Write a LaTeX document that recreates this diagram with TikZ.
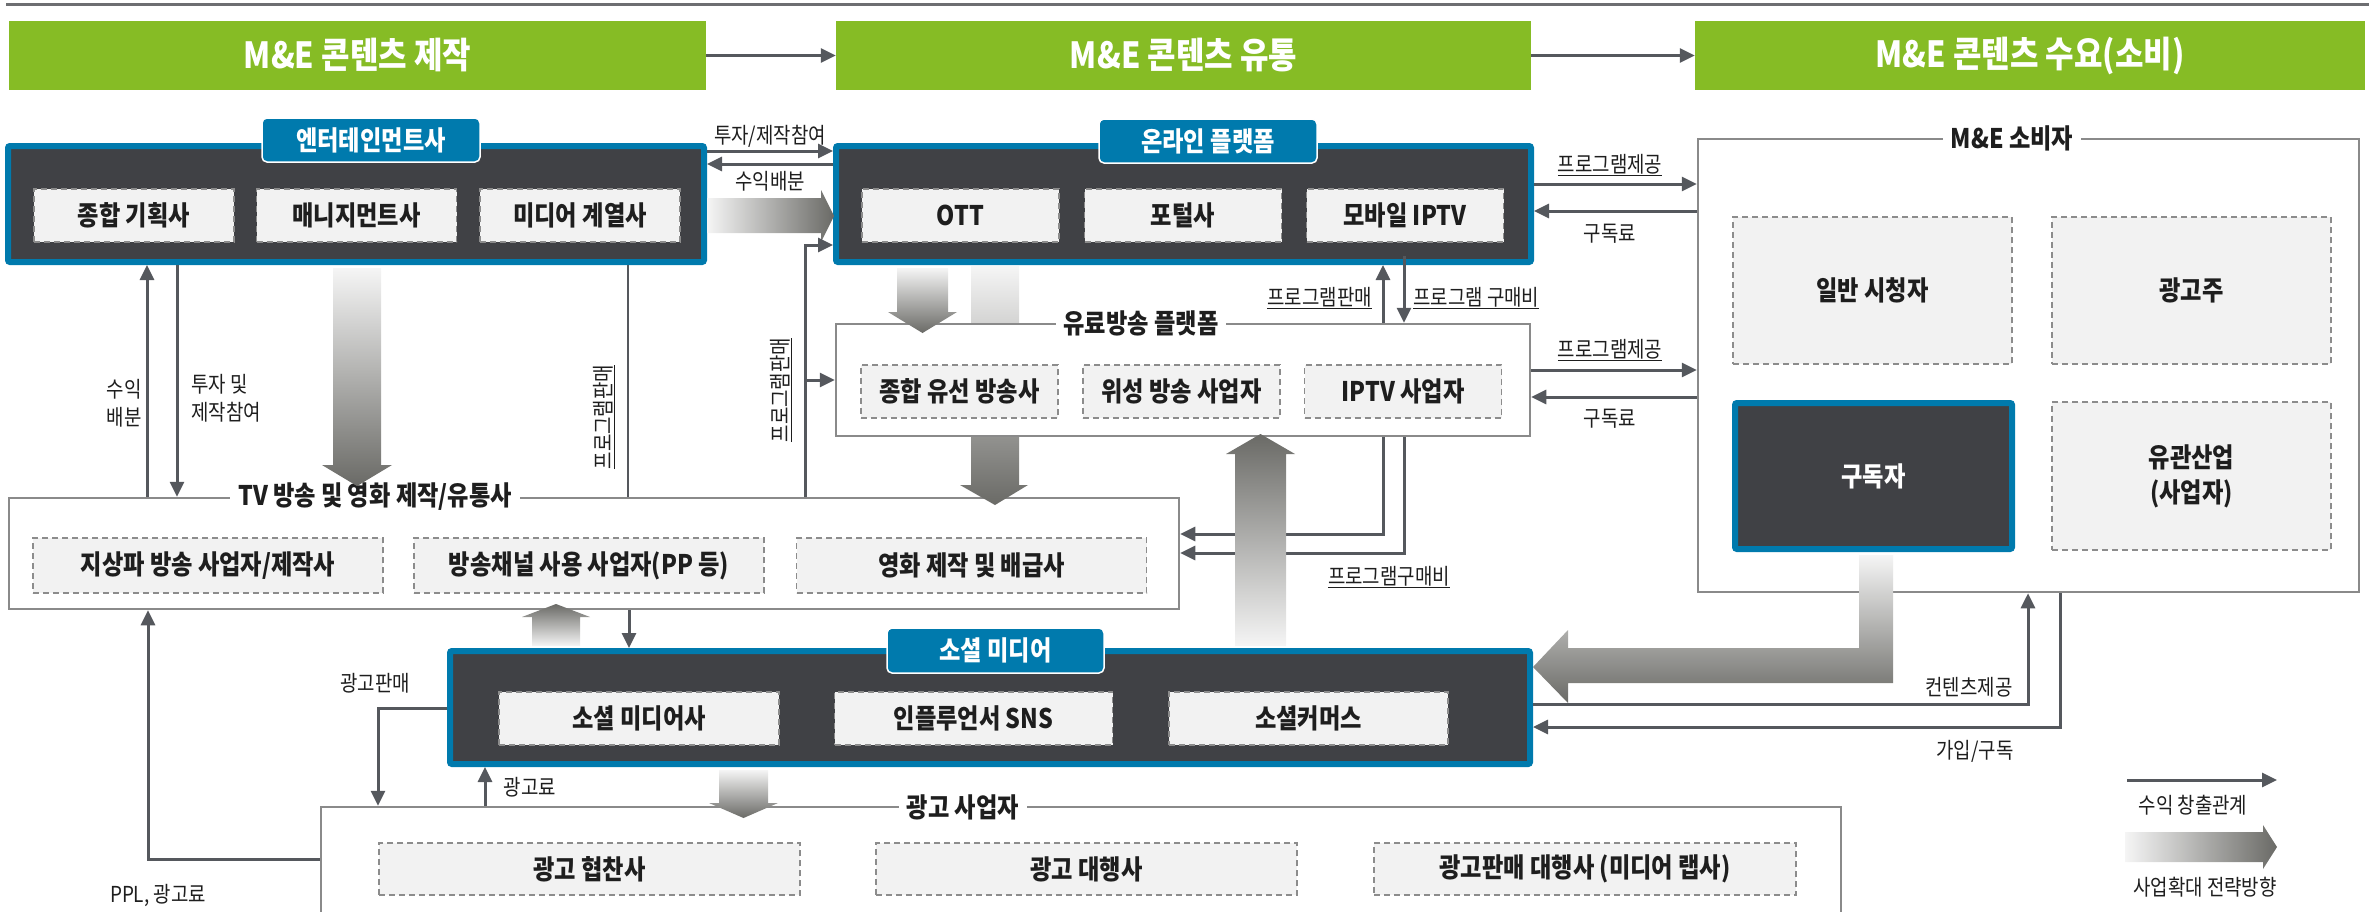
\documentclass[tikz,border=0pt]{standalone}
\usepackage{fontspec}
\setmainfont{Noto Sans CJK KR}[FakeStretch=0.86]
\usetikzlibrary{arrows.meta}
\definecolor{hgreen}{RGB}{134,188,37}
\definecolor{bblue}{RGB}{0,122,173}
\definecolor{dbox}{RGB}{64,65,69}
\definecolor{ibox}{RGB}{242,242,242}
\definecolor{dgray}{RGB}{140,140,140}
\definecolor{agray}{RGB}{85,88,93}
\definecolor{pgray}{RGB}{138,138,138}
\definecolor{tline}{RGB}{109,110,113}
\definecolor{fatdark}{RGB}{106,106,102}
\definecolor{fatlight}{RGB}{245,245,245}
\definecolor{txt}{RGB}{30,30,30}
\begin{document}
\begin{tikzpicture}[x=1pt,y=-1pt,
  hdr/.style={fill=hgreen, text=white, font=\fontsize{36}{38}\selectfont\bfseries, minimum height=69pt, inner sep=0},
  bluebox/.style={fill=dbox, draw=bblue, line width=6pt, rounded corners=2pt, inner sep=0},
  tabbox/.style={fill=bblue, draw=white, line width=1.5pt, rounded corners=5pt, text=white, font=\fontsize{27}{29}\selectfont\bfseries, minimum width=218pt, minimum height=44pt, inner sep=0},
  ibx/.style={fill=ibox, draw=dgray, dash pattern=on 6pt off 4pt, line width=1.8pt, text=txt, font=\fontsize{27}{35}\selectfont\bfseries, inner sep=0, align=center},
  pbox/.style={draw=pgray, line width=2.5pt, fill=white, inner sep=0},
  ttl/.style={fill=white, text=txt, font=\fontsize{27}{29}\selectfont\bfseries, inner xsep=8pt, inner ysep=2pt},
  ln/.style={draw=agray, line width=3pt},
  conn/.style={ln, -{Triangle[length=15pt,width=14pt]}},
  lab/.style={font=\fontsize{22}{28}\selectfont, text=txt, inner sep=0, align=center},
  fatv/.style={top color=fatlight, bottom color=fatdark},
  fatu/.style={top color=fatdark, bottom color=fatlight},
  fath/.style={left color=fatlight, right color=fatdark},
]
\useasboundingbox (0,0) rectangle (2369,911);

% top rule
\coordinate (tl1) at (6,4);
\coordinate (tl2) at (2369,4);
\draw[tline, line width=3pt] (tl1) -- (tl2);

% headers
\node[hdr, minimum width=697pt] (h1) at (357.5,55.5) {M\&E 콘텐츠 제작};
\node[hdr, minimum width=695pt] (h2) at (1183.5,55.5) {M\&E 콘텐츠 유통};
\node[hdr, minimum width=670pt] (h3) at (2030,55.5) {M\&E 콘텐츠 수요(소비)};
\draw[conn] (h1) -- (h2);
\draw[conn] (h2) -- (h3);

% plain boxes
\node[pbox, minimum width=1170pt, minimum height=111pt] (tv) at (594,553.5) {};
\node[pbox, minimum width=1520pt, minimum height=120pt] (ad) at (1081,867) {};
\node[pbox, minimum width=661pt, minimum height=453pt] (cons) at (2028.5,365.5) {};

% fat arrow online -> TV (behind paid platform)
\shade[fatv] (971,266) -- (1019,266) -- (1019,485) -- (1028,485) -- (995,505) -- (960,485) -- (971,485) -- cycle;

% paid platform box
\node[pbox, minimum width=694pt, minimum height=112pt] (paid) at (1183,380) {};

% titles of plain boxes
\node[ttl] at (375,497) {TV 방송 및 영화 제작/유통사};
\node[ttl] at (1141,323) {유료방송 플랫폼};
\node[ttl] at (963,807) {광고 사업자};
\node[ttl] at (2012,138) {M\&E 소비자};

% program purchase lines paid -> TV (behind fat arrow)
\draw[conn] (paid.south -| 1383,0) -- (1383,534) -- (tv.east |- 0,534);
\draw[conn] (paid.south -| 1404,0) -- (1404,553) -- (tv.east |- 0,553);

% fat arrow social -> paid
\shade[fatu] (1235,646) -- (1286,646) -- (1286,454) -- (1295,454) -- (1260.5,434) -- (1226,454) -- (1235,454) -- cycle;

% blue boxes
\node[bluebox, minimum width=696pt, minimum height=116pt] (ent) at (356,204) {};
\node[bluebox, minimum width=695pt, minimum height=116pt] (online) at (1183.5,204) {};
\node[bluebox, minimum width=1080pt, minimum height=113pt] (social) at (990,707.5) {};

\node[tabbox] (enttab) at (371,140) {엔터테인먼트사};
\node[tabbox] (onltab) at (1208,141) {온라인 플랫폼};
\node[tabbox, minimum width=217pt, minimum height=45pt] (soctab) at (995.5,650.5) {소셜 미디어};

% inner boxes
\node[ibx, minimum width=200pt, minimum height=53pt] (e1) at (134,215.5) {종합 기획사};
\node[ibx, minimum width=200pt, minimum height=53pt] (e2) at (356.5,215.5) {매니지먼트사};
\node[ibx, minimum width=200pt, minimum height=53pt] (e3) at (580,215.5) {미디어 계열사};

\node[ibx, minimum width=197pt, minimum height=53pt] (o1) at (960.5,215.5) {OTT};
\node[ibx, minimum width=197pt, minimum height=53pt] (o2) at (1183,215.5) {포털사};
\node[ibx, minimum width=197pt, minimum height=53pt] (o3) at (1405,215.5) {모바일 IPTV};

\node[ibx, minimum width=197pt, minimum height=53pt] (p1) at (959.5,391.5) {종합 유선 방송사};
\node[ibx, minimum width=197pt, minimum height=53pt] (p2) at (1181.5,391.5) {위성 방송 사업자};
\node[ibx, minimum width=197pt, minimum height=53pt] (p3) at (1403,391.5) {IPTV 사업자};

\node[ibx, minimum width=350pt, minimum height=55pt] (t1) at (208,565.5) {지상파 방송 사업자/제작사};
\node[ibx, minimum width=350pt, minimum height=55pt] (t2) at (589,565.5) {방송채널 사용 사업자(PP 등)};
\node[ibx, minimum width=350pt, minimum height=55pt] (t3) at (971.5,565.5) {영화 제작 및 배급사};

\node[ibx, minimum width=280pt, minimum height=53pt] (s1) at (639,718.5) {소셜 미디어사};
\node[ibx, minimum width=278pt, minimum height=53pt] (s2) at (973.5,718.5) {인플루언서 SNS};
\node[ibx, minimum width=279pt, minimum height=53pt] (s3) at (1308.5,718.5) {소셜커머스};

\node[ibx, minimum width=421pt, minimum height=52pt] (a1) at (589.5,869) {광고 협찬사};
\node[ibx, minimum width=421pt, minimum height=52pt] (a2) at (1086.5,869) {광고 대행사};
\node[ibx, minimum width=422pt, minimum height=52pt] (a3) at (1585,869) {광고판매 대행사 (미디어 랩사)};

\node[ibx, minimum width=279pt, minimum height=147pt] (c1) at (1872.5,290.5) {일반 시청자};
\node[ibx, minimum width=279pt, minimum height=147pt] (c2) at (2191.5,290.5) {광고주};
\node[bluebox, minimum width=277pt, minimum height=146pt, text=white, font=\fontsize{27}{29}\selectfont\bfseries] (c3) at (1873.5,476) {구독자};
\node[ibx, minimum width=279pt, minimum height=148pt] (c4) at (2191.5,476) {유관산업\\(사업자)};

% ent <-> online
\draw[conn] (ent.east |- 0,151) -- (online.west |- 0,151);
\draw[conn] (online.west |- 0,164) -- (ent.east |- 0,164);
\node[lab] at (770,136) {투자/제작참여};
\node[lab] at (770,181) {수익배분};
\shade[fath] (707,198) -- (821,198) -- (821,190) -- (834,216) -- (821,242) -- (821,233) -- (707,233) -- cycle;

% program sales to online / paid
\draw[conn] (tv.north -| 805,0) -- (805,245) -- (online.west |- 0,245);
\coordinate (br) at (805,380);
\draw[conn] (br) -- (paid.west |- 0,380);
\node[lab, rotate=90] at (781,390) {\underline{프로그램판매}};

% line ent -> TV
\draw[ln, line width=2.5pt] (ent.south -| 628,0) -- (tv.north -| 628,0);
\node[lab, rotate=90] at (604,417) {\underline{프로그램판매}};

% left arrows
\draw[conn] (tv.north -| 147,0) -- (ent.south -| 147,0);
\draw[conn] (ent.south -| 177,0) -- (tv.north -| 177,0);
\node[lab] at (124,403) {수익\\배분};
\node[lab, align=left, anchor=west] at (191,398) {투자 및\\제작참여};

% fat arrow ent -> TV
\shade[fatv] (333,268) -- (381,268) -- (381,465) -- (392,465) -- (357,486) -- (322,465) -- (333,465) -- cycle;

% fat arrow online -> paid
\shade[fatv] (897,268) -- (948,268) -- (948,312) -- (957,312) -- (922.5,333) -- (888,312) -- (897,312) -- cycle;

% online <-> paid
\draw[conn] (paid.north -| 1383,0) -- (online.south -| 1383,0);
\coordinate (pb) at (1404,256);
\draw[conn] (pb) -- (paid.north -| 1404,0);
\node[lab, anchor=east] at (1372,298) {\underline{프로그램판매}};
\node[lab, anchor=west] at (1413,298) {\underline{프로그램 구매비}};
\node[lab] at (1389,577) {\underline{프로그램구매비}};

% platforms <-> consumer
\draw[conn] (online.east |- 0,184) -- (cons.west |- 0,184);
\draw[conn] (cons.west |- 0,211) -- (online.east |- 0,211);
\draw[conn] (paid.east |- 0,370) -- (cons.west |- 0,370);
\draw[conn] (cons.west |- 0,397) -- (paid.east |- 0,397);
\node[lab] at (1610,165) {\underline{프로그램제공}};
\node[lab] at (1610,234) {구독료};
\node[lab] at (1610,350) {\underline{프로그램제공}};
\node[lab] at (1610,419) {구독료};

% TV <-> social
\shade[fatu] (532,646) -- (580,646) -- (580,617) -- (590,617) -- (556,604) -- (522,617) -- (532,617) -- cycle;
\draw[conn] (tv.south -| 629,0) -- (social.north -| 629,0);

% social <-> ad
\draw[conn] (social.west |- 0,708) -- (378,708) -- (ad.north -| 378,0);
\draw[conn] (ad.north -| 485,0) -- (social.south -| 485,0);
\node[lab] at (375,683) {광고판매};
\node[lab] at (530,787) {광고료};
\shade[fatv] (719,770) -- (768,770) -- (768,803) -- (778,803) -- (743.5,818) -- (709,803) -- (719,803) -- cycle;

% PPL
\draw[conn] (ad.west |- 0,859) -- (148,859) -- (tv.south -| 148,0);
\node[lab] at (158,895) {PPL, 광고료};

% subscriber -> social big L arrow
\shade[fatv] (1859,555) -- (1893,555) -- (1893,683) -- (1568,683) -- (1568,703) -- (1533,667) -- (1568,630) -- (1568,648) -- (1859,648) -- cycle;

% social <-> consumer
\draw[conn] (social.east |- 0,704) -- (2028,704) -- (cons.south -| 2028,0);
\draw[conn] (cons.south -| 2060,0) -- (2060,727) -- (social.east |- 0,727);
\node[lab] at (1969,687) {컨텐츠제공};
\node[lab] at (1975,751) {가입/구독};

% legend
\coordinate (lg1) at (2127,780);
\coordinate (lg2) at (2277,780);
\draw[conn] (lg1) -- (lg2);
\node[lab] at (2193,805) {수익 창출관계};
\shade[fath] (2125,832) -- (2263,832) -- (2263,825) -- (2277,847) -- (2263,869) -- (2263,862) -- (2125,862) -- cycle;
\node[lab] at (2205,887) {사업확대 전략방향};
\end{tikzpicture}
\end{document}
